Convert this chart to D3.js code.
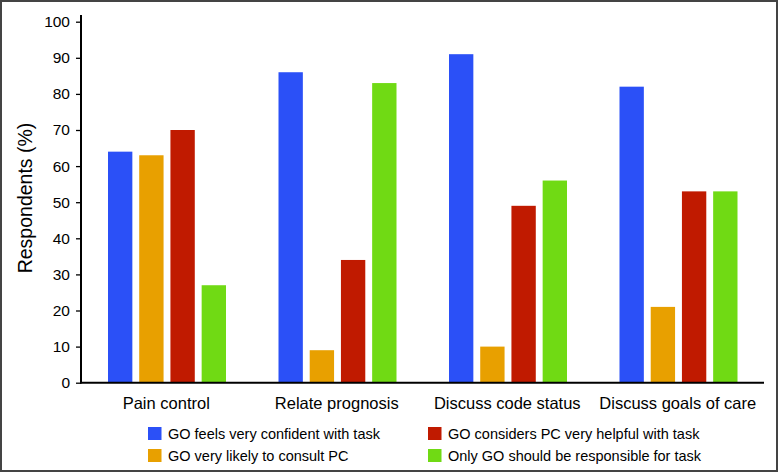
<!DOCTYPE html>
<html><head><meta charset="utf-8">
<script src="https://cdn.jsdelivr.net/npm/d3@7"></script>
<style>
html,body{margin:0;padding:0;background:#fff;}
svg{display:block;font-family:"Liberation Sans",Arial,Helvetica,sans-serif;}
</style></head>
<body>
<svg id="chart" width="778" height="472"></svg>
<script>
const categories = ["Pain control", "Relate prognosis", "Discuss code status", "Discuss goals of care"];
const seriesNames = ["GO feels very confident with task", "GO very likely to consult PC", "GO considers PC very helpful with task", "Only GO should be responsible for task"];
const seriesColors = ["#2b50f7", "#e8a000", "#c01a00", "#70da14"];
const confident = [64, 86, 91, 82];
const consult = [63, 9, 10, 21];
const helpful = [70, 34, 49, 53];
const onlyGO = [27, 83, 56, 53];
const yTicks = [0, 10, 20, 30, 40, 50, 60, 70, 80, 90, 100];
const seriesValues = [confident, consult, helpful, onlyGO];

const svg = d3.select("#chart");
// frame
svg.append("rect").attr("x", 1).attr("y", 1).attr("width", 776).attr("height", 470)
  .attr("fill", "#fff").attr("stroke", "#444").attr("stroke-width", 2);

const x0 = d3.scaleBand().domain(categories).range([81, 763]).paddingInner(0).paddingOuter(0);
const x1 = d3.scaleBand().domain(d3.range(4)).range([27, 145]).paddingInner(0.22).paddingOuter(0);
const y = d3.scaleLinear().domain([0, 100]).range([382.7, 21.7]);

// bars
const g = svg.append("g");
categories.forEach((c, ci) => {
  seriesValues.forEach((vals, si) => {
    g.append("rect")
      .attr("x", x0(c) + x1(si))
      .attr("y", y(vals[ci]))
      .attr("width", x1.bandwidth())
      .attr("height", y(0) - y(vals[ci]))
      .attr("fill", seriesColors[si]);
  });
});

// y axis
const yAxis = d3.axisLeft(y).tickValues(yTicks).tickSize(5).tickPadding(6).tickFormat(d3.format("d"));
const ya = svg.append("g").attr("transform", "translate(81,0)").call(yAxis);
ya.select(".domain").remove();
ya.selectAll(".tick line").attr("stroke", "#000").attr("stroke-width", 1.3);
ya.selectAll("text").attr("font-size", 15.5).attr("fill", "#000");
svg.append("line").attr("x1", 81).attr("x2", 81).attr("y1", 15).attr("y2", 383.5)
  .attr("stroke", "#000").attr("stroke-width", 2);

// x axis
const xAxis = d3.axisBottom(x0).tickSize(0).tickPadding(15);
const xa = svg.append("g").attr("transform", "translate(0,382.7)").call(xAxis);
xa.select(".domain").remove();
xa.selectAll("text").attr("font-size", 16.5).attr("fill", "#000");
svg.append("line").attr("x1", 80).attr("x2", 764).attr("y1", 382.7).attr("y2", 382.7)
  .attr("stroke", "#000").attr("stroke-width", 2);

// y label
svg.append("text").attr("transform", "translate(32,198) rotate(-90)")
  .attr("text-anchor", "middle").attr("font-size", 19.5).attr("fill", "#000")
  .text("Respondents (%)");

// legend
const legPos = [[148, 427], [148, 449], [428, 427], [428, 449]];
seriesNames.forEach((n, i) => {
  const [lx, ly] = legPos[i];
  svg.append("rect").attr("x", lx).attr("y", ly).attr("width", 13.5).attr("height", 13).attr("fill", seriesColors[i]);
  svg.append("text").attr("x", lx + 20).attr("y", ly + 11.5).attr("font-size", 14.5).attr("fill", "#000").text(n);
});
</script>
</body></html>
